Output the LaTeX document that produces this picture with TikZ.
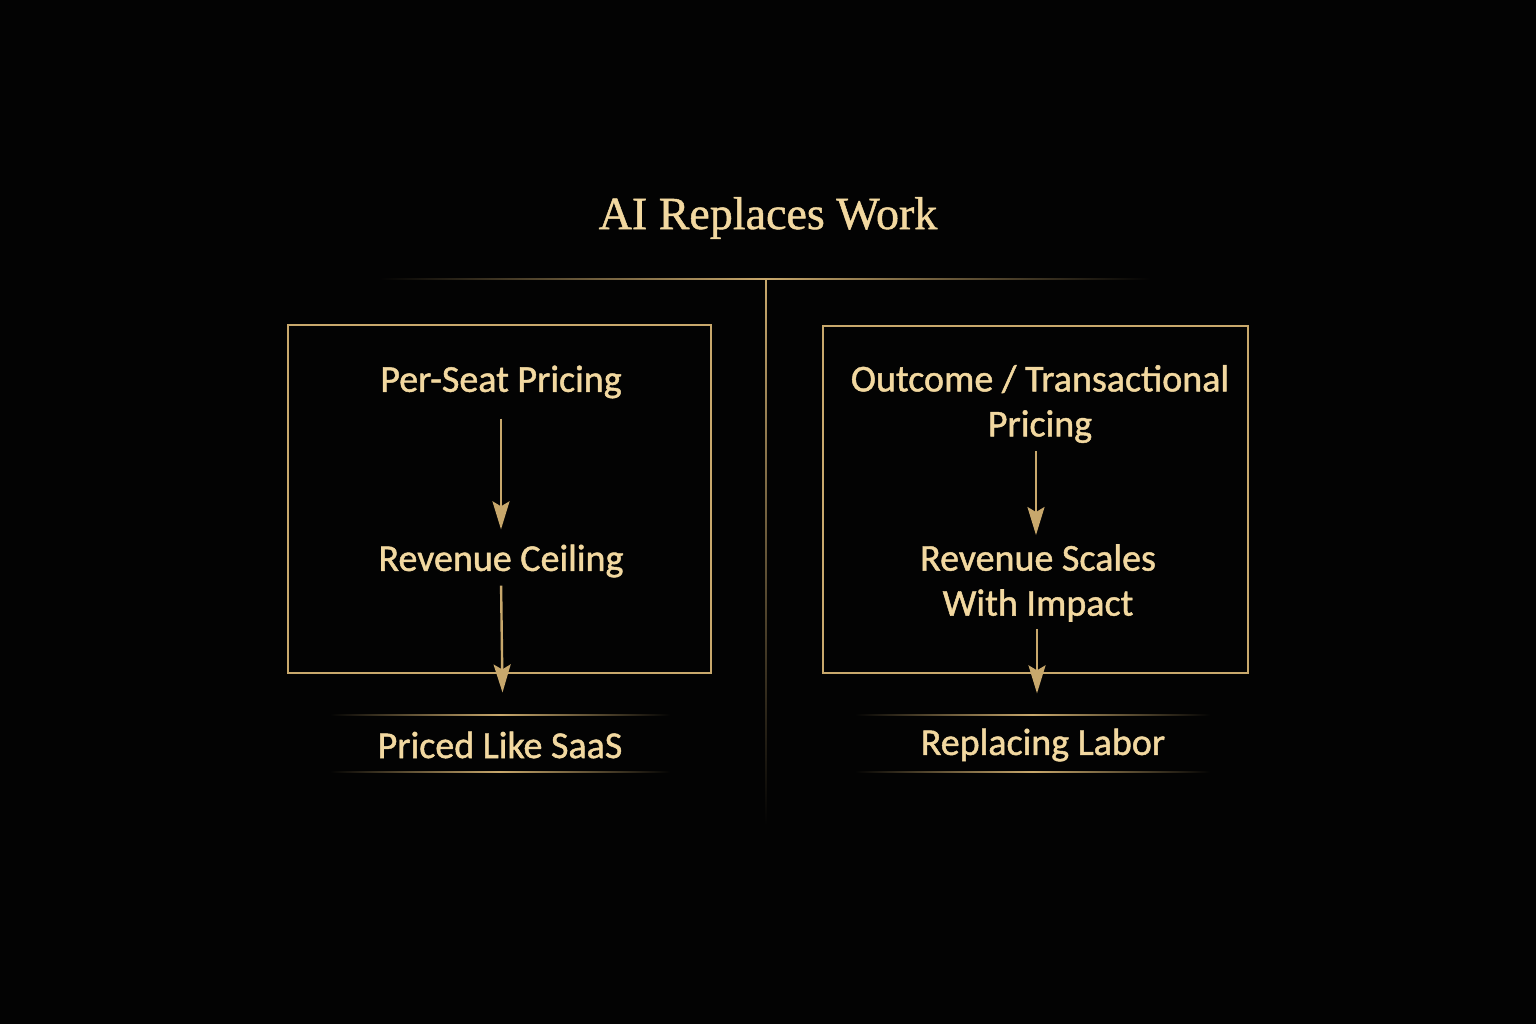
\documentclass[tikz,border=0pt]{standalone}
\usepackage{fontspec}
\setmainfont{Carlito}[FakeBold=1.2]
\newfontfamily\titlefont{Liberation Serif}[FakeBold=1.0]
\usetikzlibrary{arrows.meta}
\definecolor{gold}{RGB}{200,168,108}
\definecolor{goldtext}{RGB}{242,216,160}
\definecolor{bg}{RGB}{3,3,3}
\tikzset{
  lbl/.style={text=goldtext, font=\fontsize{38}{45}\selectfont, align=center, inner sep=2pt},
  panel/.style={draw=gold, line width=2.8pt},
  flow/.style={draw=gold, line width=2.4pt, -{Stealth[length=28pt,width=17pt,inset=5pt]}},
}
\begin{document}
\begin{tikzpicture}[x=1pt,y=-1pt]
\fill[bg] (0,0) rectangle (1536,1024);
\useasboundingbox (0,0) rectangle (1536,1024);
% title
\node[text=goldtext, font=\titlefont\fontsize{46}{54}\selectfont] (title) at (768,218) {AI Replaces Work};
% title rule and divider
\shade[left color=bg, right color=bg, middle color=gold] (380,278.2) rectangle (1150,279.8);
\shade[top color=gold, bottom color=bg] (765.2,280) rectangle (766.8,825);
% boxes
\draw[panel] (288,325) rectangle (711,673);
\draw[panel] (823,326) rectangle (1248,673);
% left column
\node[lbl] (seat) at (501,382) {Per-Seat Pricing};
\node[lbl] (ceil) at (501,561) {Revenue Ceiling};
\node[lbl] (saas) at (500,745) {Priced Like SaaS};
\draw[flow, shorten <=18pt, shorten >=13pt] (seat) -- (seat|-ceil.north);
\draw[flow, shorten <=6pt, shorten >=37pt] (ceil.south) -- ([xshift=3pt]saas.north);
\shade[left color=bg, right color=bg, middle color=gold] (330,714.3) rectangle (670,715.7);
\shade[left color=bg, right color=bg, middle color=gold] (330,771.3) rectangle (670,772.7);
% right column
\node[lbl] (outc) at (1040,404) {Outcome / Transactional\\Pricing};
\node[lbl] (scal) at (1038,583) {Revenue Scales\\With Impact};
\node[lbl] (labr) at (1043,745) {Replacing Labor};
\draw[flow, shorten <=6pt, shorten >=7pt] (outc.south-|1036,0) -- (scal.north-|1036,0);
\draw[flow, shorten <=5pt, shorten >=33pt] (scal.south-|1037,0) -- (labr.north-|1037,0);
\shade[left color=bg, right color=bg, middle color=gold] (855,714.3) rectangle (1210,715.7);
\shade[left color=bg, right color=bg, middle color=gold] (855,771.3) rectangle (1210,772.7);
\end{tikzpicture}
\end{document}
